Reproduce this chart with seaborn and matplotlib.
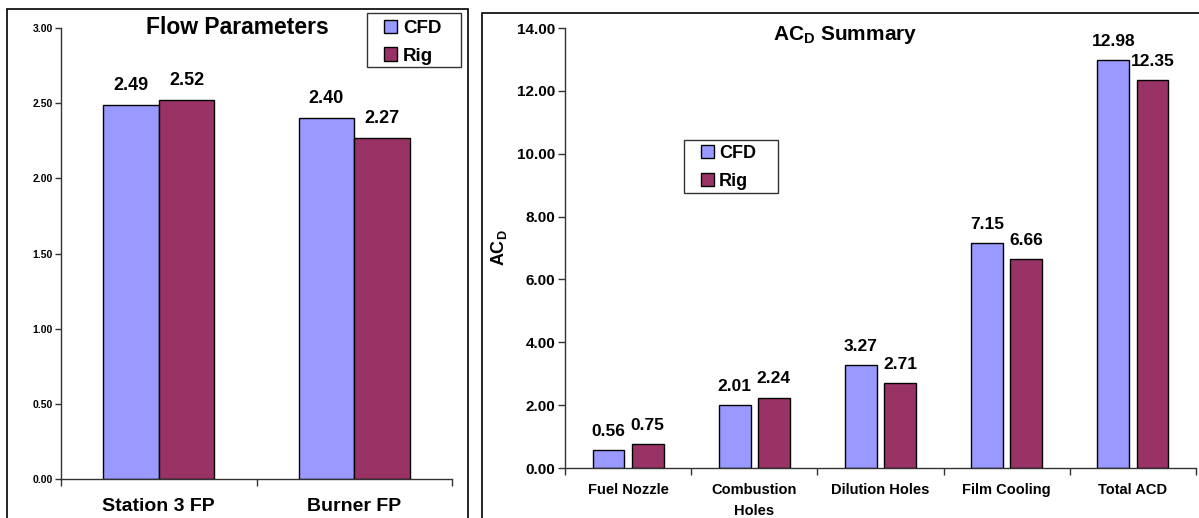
import matplotlib
matplotlib.use("Agg")
import matplotlib.pyplot as plt
import seaborn as sns
import pandas as pd
from matplotlib.patches import Patch, Rectangle
from matplotlib.ticker import FixedLocator, FormatStrFormatter

# ---------------- data ----------------
series = ["CFD", "Rig"]
colors = ["#9999FF", "#993366"]

flow_categories = ["Station 3 FP", "Burner FP"]
flow_cfd = [2.49, 2.40]
flow_rig = [2.52, 2.27]
flow_yticks = [0.0, 0.5, 1.0, 1.5, 2.0, 2.5, 3.0]

acd_categories = ["Fuel Nozzle", "Combustion\nHoles", "Dilution Holes", "Film Cooling", "Total ACD"]
acd_cfd = [0.56, 2.01, 3.27, 7.15, 12.98]
acd_rig = [0.75, 2.24, 2.71, 6.66, 12.35]
acd_yticks = [0, 2, 4, 6, 8, 10, 12, 14]

# ---------------- style ----------------
sns.set_theme(style="white")
plt.rcParams["font.family"] = ["Liberation Sans", "DejaVu Sans"]
plt.rcParams["font.weight"] = "bold"
plt.rcParams["text.color"] = "black"
plt.rcParams["axes.labelcolor"] = "black"
plt.rcParams["xtick.color"] = "black"
plt.rcParams["ytick.color"] = "black"
plt.rcParams["mathtext.fontset"] = "custom"
plt.rcParams["mathtext.rm"] = "Liberation Sans"
plt.rcParams["mathtext.bf"] = "Liberation Sans:bold"

W, H = 1199, 518
fig = plt.figure(figsize=(W / 100, H / 100), dpi=100)
fig.patch.set_facecolor("white")

def fx(px):
    return px / W

def fy(py):
    return 1 - py / H

def frame(x0, y0, x1, y1, lw=1.2, color="black"):
    fig.patches.append(Rectangle((fx(x0), fy(y1)), fx(x1) - fx(x0), fy(y0) - fy(y1),
                                 transform=fig.transFigure, fill=False, edgecolor=color, lw=lw,
                                 zorder=5))

# panel frames
frame(7, 9, 468, 530)
frame(482, 13, 1210, 530)

def long_df(cats, a, b):
    return pd.DataFrame({
        "cat": cats * 2,
        "val": list(a) + list(b),
        "series": [series[0]] * len(cats) + [series[1]] * len(cats),
    })

def style_axes(ax, n, ytick_size, tick_len, xpad):
    sns.despine(ax=ax)
    for s in ["left", "bottom"]:
        ax.spines[s].set_color("#333333")
        ax.spines[s].set_linewidth(1.0)
    ax.set_xlim(-0.5, n - 0.5)
    ax.xaxis.set_minor_locator(FixedLocator([i + 0.5 for i in range(-1, n)]))
    ax.tick_params(axis="x", which="major", length=0, pad=xpad)
    ax.tick_params(axis="x", which="minor", length=5, width=1, color="#333333", direction="out", bottom=True)
    ax.tick_params(axis="y", length=tick_len, width=1, color="#333333", direction="out", left=True,
                   labelsize=ytick_size, pad=2)
    ax.yaxis.set_major_formatter(FormatStrFormatter("%.2f"))
    for lab in ax.get_yticklabels():
        lab.set_fontweight("bold")
    ax.set_xlabel("")
    ax.set_ylabel("")
    ax.grid(False)

handles = [Patch(facecolor=colors[i], edgecolor="black", label=series[i]) for i in range(2)]

def legend_at(x_left, y_top, size, spacing):
    leg = fig.legend(handles=handles, loc="upper left", bbox_to_anchor=(fx(x_left), fy(y_top)),
                     bbox_transform=fig.transFigure, borderaxespad=0, frameon=False,
                     prop={"size": size, "weight": "bold"}, handlelength=0.7, handleheight=0.7,
                     handletextpad=0.3, labelspacing=spacing, borderpad=0)
    return leg

# ---------------- left panel ----------------
ax1 = fig.add_axes([fx(61), fy(479), fx(452) - fx(61), fy(28) - fy(479)])
df1 = long_df(flow_categories, flow_cfd, flow_rig)
sns.barplot(data=df1, x="cat", y="val", hue="series", palette=colors, errorbar=None,
            width=0.57, gap=0, edgecolor="black", linewidth=1.0, legend=False, ax=ax1, saturation=1)
ax1.set_ylim(0, 3.0)
ax1.set_yticks(flow_yticks)
style_axes(ax1, len(flow_categories), 7.5, 4, 14)
for lab in ax1.get_xticklabels():
    lab.set_fontsize(14)
    lab.set_fontweight("bold")
for c in ax1.containers:
    ax1.bar_label(c, fmt="%.2f", padding=8, fontsize=13, fontweight="bold")
fig.text(fx(237), fy(28), "Flow Parameters", ha="center", va="center", fontsize=16.5, fontweight="bold")
legend_at(384, 20, 13.5, 0.55)
frame(367, 13, 461, 67, lw=1.0, color="#333333")

# ---------------- right panel ----------------
ax2 = fig.add_axes([fx(565), fy(468), fx(1196) - fx(565), fy(28) - fy(468)])
df2 = long_df(acd_categories, acd_cfd, acd_rig)
sns.barplot(data=df2, x="cat", y="val", hue="series", palette=colors, errorbar=None,
            width=0.62, gap=0.19, edgecolor="black", linewidth=1.0, legend=False, ax=ax2, saturation=1)
ax2.set_ylim(0, 14.0)
ax2.set_yticks(acd_yticks)
style_axes(ax2, len(acd_categories), 11, 5, 11)
for lab in ax2.get_xticklabels():
    lab.set_fontsize(10.5)
    lab.set_fontweight("bold")
    lab.set_linespacing(1.6)
    lab.set_va("top")
for c in ax2.containers:
    ax2.bar_label(c, fmt="%.2f", padding=8, fontsize=12.5, fontweight="bold")
ax2.set_ylabel(r"AC$_\mathbf{D}$", fontsize=13, fontweight="bold", labelpad=6)
fig.text(fx(845), fy(35), r"AC$_\mathbf{D}$ Summary", ha="center", va="center", fontsize=15, fontweight="bold")
legend_at(701, 145, 13, 0.6)
frame(684, 140, 778, 193, lw=1.0, color="#333333")

fig.savefig("out.png", dpi=100, facecolor="white")
